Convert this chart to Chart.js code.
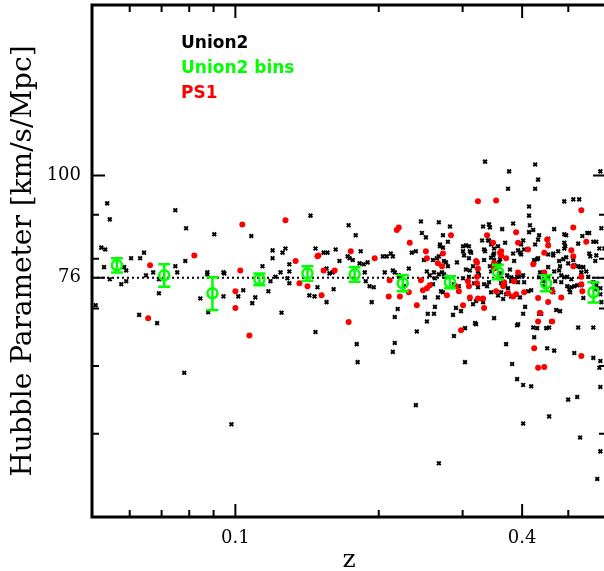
<!DOCTYPE html>
<html>
<head>
<meta charset="utf-8">
<script src="https://cdn.jsdelivr.net/npm/chart.js@4.4.1/dist/chart.umd.min.js"></script>
<style>
  html, body { margin: 0; padding: 0; background: #fff; overflow: hidden; }
  canvas { display: block; }
</style>
</head>
<body>
<canvas id="hz" width="610" height="571"></canvas>
<script>
// Union2 supernovae, one [z, H] pair each
const union2 = [
  [0.0509,70.6],[0.0523,82.4],[0.0533,82.0],[0.0530,78.2],[0.0538,92.8],[0.0545,88.9],[0.0545,75.7],[0.0576,74.7],
  [0.0590,75.3],[0.0584,78.2],[0.0590,77.5],[0.0604,80.1],[0.0631,80.1],[0.0643,81.3],[0.0649,76.5],[0.0672,77.1],
  [0.0691,75.7],[0.0691,72.9],[0.0628,68.8],[0.0685,67.3],[0.0748,91.1],[0.0788,86.8],[0.0748,78.4],[0.0755,77.1],
  [0.0785,79.5],[0.0781,58.9],[0.0844,71.9],[0.0873,77.1],[0.0873,76.7],[0.0877,69.3],[0.0903,85.4],[0.0944,77.1],
  [0.0948,76.9],[0.0944,72.3],[0.0981,51.3],[0.1014,72.3],
  [0.1039,73.5],[0.1080,85.0],[0.1085,71.0],[0.1101,72.1],[0.1140,78.4],[0.1197,81.8],[0.1197,80.1],[0.1185,75.3],
  [0.1173,73.3],[0.1214,76.2],[0.1244,77.1],[0.1250,69.2],[0.1256,81.3],[0.1274,82.2],[0.1286,75.9],[0.1298,74.9],
  [0.1298,78.8],[0.1298,77.3],[0.1438,89.8],[0.1473,82.2],[0.1487,74.1],[0.1466,72.3],[0.1430,72.5],[0.1473,65.7],
  [0.1532,81.3],[0.1561,81.3],[0.1554,77.9],[0.1576,76.9],[0.1554,71.2],[0.1600,77.1],[0.1624,82.0],[0.1608,73.7],
  [0.1654,79.5],
  [0.1729,87.5],[0.1721,80.5],[0.1789,85.2],[0.1737,80.1],[0.1764,79.7],[0.1833,81.6],[0.1823,79.0],[0.1860,78.8],
  [0.1895,79.2],[0.1869,77.1],[0.1878,75.3],[0.1913,74.3],[0.1952,74.1],[0.1933,71.2],[0.2040,80.5],[0.2079,80.5],
  [0.2120,81.1],[0.2141,80.5],[0.2059,77.1],[0.2141,77.5],[0.2161,77.1],[0.2203,76.5],[0.2192,69.9],[0.2161,68.4],
  [0.2226,76.2],[0.2258,74.3],[0.1798,63.6],[0.1806,60.6],[0.2161,63.8],[0.2141,62.3],
  [0.2313,77.9],[0.2347,81.3],[0.2393,81.6],[0.2452,88.4],[0.2464,85.7],[0.2512,84.7],[0.2488,79.7],[0.2599,79.7],
  [0.2524,77.3],[0.2559,76.5],[0.2612,77.1],[0.2535,69.0],[0.2524,67.6],[0.2649,80.1],[0.2674,80.5],[0.2674,88.2],
  [0.2728,85.2],[0.2794,83.7],[0.2624,75.9],[0.2674,76.7],[0.2728,73.1],[0.2689,83.1],[0.2689,82.7],[0.2741,79.5],
  [0.2768,79.2],[0.2794,78.4],[0.2715,77.1],[0.2741,76.7],[0.2768,76.2],[0.2905,70.1],[0.2864,68.8],[0.2919,79.2],
  [0.2877,74.7],[0.2946,74.3],[0.2877,65.0],[0.2822,87.2],[0.2728,82.4],[0.2500,72.1],[0.2612,69.0],[0.2624,70.3],
  [0.2404,65.8],[0.2393,54.0],[0.2674,46.2],[0.2702,73.3],[0.2662,72.1],[0.2977,69.5],[0.2599,74.7],
  [0.3035,66.4],[0.3006,82.7],[0.3049,82.9],[0.3006,81.6],[0.3107,81.6],[0.3093,82.7],[0.3049,77.7],[0.3107,77.5],
  [0.3093,76.2],[0.3006,75.9],[0.3201,67.1],[0.3231,77.3],[0.3247,76.5],[0.3171,74.9],[0.3231,74.1],[0.3262,71.8],
  [0.3312,71.2],[0.3312,87.2],[0.3376,85.2],[0.3408,84.0],[0.3408,87.7],[0.3443,83.1],[0.3493,82.2],[0.3560,82.7],
  [0.3328,82.0],[0.3344,81.6],[0.3493,81.1],[0.3443,80.2],[0.3493,79.7],[0.3632,86.6],[0.3830,87.9],[0.3684,83.5],
  [0.3830,81.1],[0.3922,81.8],[0.3959,81.3],[0.3614,74.9],[0.3684,74.3],[0.3737,73.9],[0.3614,73.1],[0.3702,72.7],
  [0.3793,72.3],[0.3793,76.1],[0.3867,75.7],[0.3941,76.2],[0.3720,76.5],[0.3772,77.7],[0.3848,79.5],[0.3344,103.8],
  [0.3756,101.1],[0.3737,96.5],[0.3021,80.7],[0.3125,81.3],[0.3476,80.7],[0.3093,80.1],[0.3155,78.4],[0.3328,79.7],
  [0.3423,78.4],[0.3443,77.3],[0.3596,79.9],[0.3579,79.2],[0.3904,76.2],[0.3614,76.9],[0.3596,75.9],[0.3793,75.3],
  [0.3408,75.1],[0.3328,74.7],[0.3376,74.3],[0.3035,60.6],[0.3107,71.8],[0.3155,70.8],[0.3201,71.4],[0.3186,67.3],
  [0.3493,68.2],[0.3702,63.6],[0.3904,66.9],[0.3811,60.3],[0.3904,57.9],[0.3296,84.0],[0.3392,84.0],[0.3423,87.0],
  [0.3443,73.1],[0.3560,72.5],[0.3649,71.8],
  [0.3981,80.9],[0.4039,82.0],[0.4020,76.5],[0.4039,75.1],[0.4136,85.9],[0.4220,86.4],[0.4155,87.5],[0.4020,84.0],
  [0.3981,83.1],[0.4020,69.0],[0.4058,70.3],[0.3922,67.1],[0.4220,66.5],[0.4301,66.4],[0.4240,64.8],[0.4240,79.7],
  [0.4321,80.1],[0.4260,83.1],[0.4321,84.2],[0.4342,85.2],[0.4536,80.9],[0.4649,80.7],[0.4430,75.3],[0.4451,74.3],
  [0.4342,69.0],[0.4387,69.0],[0.4604,67.6],[0.4716,69.7],[0.4494,66.4],[0.4558,66.5],[0.4671,77.3],[0.4783,77.5],
  [0.4783,79.5],[0.4880,79.9],[0.4904,83.5],[0.4904,82.2],[0.4927,82.7],[0.4904,85.4],[0.4950,85.2],[0.4997,79.0],
  [0.5122,79.7],[0.5245,78.4],[0.5073,74.1],[0.5024,73.7],[0.4974,74.3],[0.4904,76.1],[0.5073,75.7],[0.5295,78.2],
  [0.5377,78.2],[0.5454,77.3],[0.5245,83.3],[0.5351,85.0],[0.5481,85.7],[0.5532,85.7],[0.5643,83.7],[0.5725,83.7],
  [0.5560,80.5],[0.5532,81.1],[0.5697,79.5],[0.5697,73.7],[0.5838,73.9],[0.5810,82.2],[0.5245,66.5],[0.5643,66.5],
  [0.5867,71.2],[0.4136,92.0],[0.4136,89.8],[0.4904,93.3],[0.5270,93.8],[0.4260,103.0],[0.4321,98.9],[0.4260,96.5],
  [0.5838,101.1],[0.5122,93.8],[0.5867,86.8],[0.4671,86.6],[0.4536,84.4],[0.4536,83.1],[0.5953,82.2],[0.4649,81.1],
  [0.4761,81.6],[0.4950,80.3],[0.5725,80.7],[0.4240,79.2],[0.4301,79.9],[0.4805,78.4],[0.5147,78.6],[0.4536,78.2],
  [0.4536,76.2],[0.4693,75.3],[0.4833,76.5],[0.4974,76.2],[0.5325,77.1],[0.5506,76.2],[0.3922,75.1],[0.4362,77.1],
  [0.4342,76.1],[0.4833,75.1],[0.5147,74.3],[0.5221,74.5],[0.5325,74.5],[0.4020,57.0],[0.4179,56.8],[0.4020,51.4],
  [0.4515,62.9],[0.4671,62.5],[0.4805,69.5],[0.4558,52.4],[0.4626,73.7],[0.4649,73.1],[0.5044,73.1],[0.5377,72.0],
  [0.5147,62.1],[0.4997,54.8],[0.5221,55.2],[0.5295,49.5],[0.5643,61.3],[0.5838,60.8],[0.5810,59.7],[0.5838,56.7],
  [0.5838,47.7],[0.5752,44.3],[0.5838,72.7],[0.5725,74.5],[0.5643,75.1],[0.3959,72.1],[0.4116,73.3],[0.4179,73.5]
]

// PS1 supernovae, [z, H]
const ps1 = [
  [0.0662,78.6],[0.0820,80.7],[0.0656,68.2],[0.1034,87.7],[0.1024,77.5],[0.1000,73.3],[0.1000,70.1],[0.1070,65.1],
  [0.1274,88.7],[0.1338,79.5],[0.1363,74.9],[0.1417,74.3],[0.1487,80.5],[0.1494,80.7],[0.1517,72.5],[0.1532,77.5],
  [0.1616,77.5],[0.1729,67.5],[0.1747,81.6],
  [0.1961,80.1],[0.2108,75.5],[0.2099,72.3],[0.2182,86.4],[0.2203,87.0],[0.2215,72.3],[0.2323,83.5],[0.2313,73.1],
  [0.2512,81.6],[0.2524,80.1],[0.2452,75.5],[0.2404,70.6],[0.2476,73.5],[0.2524,73.9],[0.2728,81.1],[0.2662,79.0],
  [0.2559,74.5],[0.2836,85.2],[0.2905,74.3],[0.2946,73.3],[0.3006,70.6],[0.2977,66.0],[0.3078,75.3],[0.3093,74.3],
  [0.3107,72.1],[0.3201,79.5],[0.3216,76.2],[0.3216,74.9],[0.3231,71.9],[0.3312,71.9],[0.3328,70.1],[0.3376,85.2],
  [0.3476,83.5],[0.3596,81.3],[0.3614,80.7],[0.3702,80.1],[0.3493,79.0],[0.3922,83.5],[0.3885,85.9],[0.3667,75.1],
  [0.3649,74.3],[0.3830,72.3],[0.3885,72.7],[0.4039,73.1],[0.4116,82.0],[0.4451,81.3],[0.4536,82.9],[0.4515,84.2],
  [0.4321,72.0],[0.4536,71.2],[0.4626,73.3],[0.4321,67.6],[0.4362,69.2],[0.4626,67.6],[0.5122,87.0],[0.5073,81.8],
  [0.5122,78.4],[0.4833,72.1],[0.5454,83.7],[0.5325,74.7],[0.5351,73.3],
  [0.3231,93.3],[0.3527,93.5],[0.5325,91.1],[0.3216,79.2],[0.3231,77.9],[0.3493,77.9],[0.3614,81.6],[0.4220,78.8],
  [0.4451,77.1],[0.5325,76.2],[0.3922,77.1],[0.3848,75.3],[0.2715,78.4],[0.2781,72.5],[0.3527,73.3],[0.3737,72.9],
  [0.4240,62.9],[0.4321,59.7],[0.4451,59.8],[0.5325,61.6],[0.5122,80.5]
]

// Union2 binned means with 1-sigma errors
const binZ = [0.0564, 0.0709, 0.0895, 0.1123, 0.1417, 0.178, 0.2246, 0.2822, 0.3558, 0.4491, 0.5648]
const binH = [78.6, 76.5, 72.9, 75.7, 76.9, 76.7, 74.9, 75.1, 77.2, 74.9, 73.1]
const binErr = [1.5, 2.3, 3.2, 1.2, 1.5, 1.5, 1.6, 1.2, 1.5, 1.6, 2.0]

const H_REF = 76
const zRange = [0.05, 0.6]
const hRange = [40, 158]

// axis ticks: labelled (major) and unlabelled (minor)
const zMajor = [0.1, 0.4]
const zMinor = [0.06, 0.07, 0.08, 0.09, 0.2, 0.3, 0.5]
const hMajor = [76, 100]
const hMinor = [50, 60, 70, 80, 90]

const legendItems = [
  { text: 'Union2', color: '#000000' },
  { text: 'Union2 bins', color: '#00ff00' },
  { text: 'PS1', color: '#ff0000' }
]

const SERIF = '"DejaVu Serif", "Liberation Serif", serif'
const toXY = arr => arr.map(p => ({ x: p[0], y: p[1] }))

// keep the plot box exactly where the layout padding puts it
function fixScale(size) {
  return s => {
    if (s.isHorizontal()) s.height = size
    else s.width = size
    s.paddingTop = s.paddingBottom = s.paddingLeft = s.paddingRight = 0
  }
}

// error bars for the binned points
const errorBars = {
  id: 'errorBars',
  afterDatasetsDraw(chart) {
    const { ctx, scales: { x, y } } = chart
    ctx.save()
    ctx.strokeStyle = '#00ff00'
    binZ.forEach((z, i) => {
      const px = x.getPixelForValue(z)
      const top = y.getPixelForValue(binH[i] + binErr[i])
      const bot = y.getPixelForValue(binH[i] - binErr[i])
      ctx.lineWidth = 2.5
      ctx.beginPath()
      ctx.moveTo(px, top); ctx.lineTo(px, bot)
      ctx.moveTo(px - 6, top); ctx.lineTo(px + 6, top)
      ctx.moveTo(px - 6, bot); ctx.lineTo(px + 6, bot)
      ctx.stroke()
    })
    ctx.restore()
  }
}

// boxed frame with inward ticks on all four sides, plus the text legend
const frame = {
  id: 'frame',
  afterDraw(chart) {
    const { ctx, chartArea: a, scales: { x, y } } = chart
    ctx.save()
    ctx.strokeStyle = '#000'
    ctx.lineWidth = 2
    const xt = (v, len) => {
      const px = x.getPixelForValue(v)
      ctx.moveTo(px, a.bottom); ctx.lineTo(px, a.bottom - len)
      ctx.moveTo(px, a.top); ctx.lineTo(px, a.top + len)
    }
    const yt = (v, len) => {
      const py = y.getPixelForValue(v)
      ctx.moveTo(a.left, py); ctx.lineTo(a.left + len, py)
      ctx.moveTo(a.right, py); ctx.lineTo(a.right - len, py)
    }
    ctx.beginPath()
    zMajor.forEach(v => xt(v, 13))
    zMinor.forEach(v => xt(v, 7))
    hMajor.forEach(v => yt(v, 13))
    hMinor.forEach(v => yt(v, 7))
    ctx.stroke()
    ctx.lineWidth = 3
    ctx.strokeRect(a.left, a.top, a.right - a.left, a.bottom - a.top)

    ctx.font = 'bold 17px "DejaVu Sans", sans-serif'
    ctx.textBaseline = 'alphabetic'
    legendItems.forEach((it, i) => {
      ctx.fillStyle = it.color
      ctx.fillText(it.text, 181, 48 + i * 25)
    })
    ctx.restore()
  }
}

new Chart(document.getElementById('hz'), {
  type: 'scatter',
  data: {
    datasets: [
      {
        label: 'Union2 bins',
        data: toXY(binZ.map((z, i) => [z, binH[i]])),
        pointStyle: 'circle',
        pointRadius: 5,
        borderWidth: 2.5,
        borderColor: '#00ff00',
        backgroundColor: 'rgba(0,0,0,0)',
        order: 0
      },
      {
        label: 'PS1',
        data: toXY(ps1),
        pointStyle: 'circle',
        pointRadius: 3,
        borderWidth: 0,
        backgroundColor: '#ff0000',
        order: 1
      },
      {
        label: 'Union2',
        data: toXY(union2),
        pointStyle: 'crossRot',
        pointRadius: 2.6,
        borderWidth: 2,
        borderColor: '#000',
        order: 2
      },
      {
        type: 'line',
        label: 'H = 76',
        data: [{ x: zRange[0], y: H_REF }, { x: zRange[1], y: H_REF }],
        borderColor: '#000',
        borderWidth: 2,
        borderDash: [2, 3],
        pointRadius: 0,
        order: 3
      }
    ]
  },
  options: {
    responsive: false,
    devicePixelRatio: 1,
    animation: false,
    layout: { autoPadding: false, padding: { top: 5, right: 4, left: 0, bottom: 0 } },
    plugins: { legend: { display: false }, tooltip: { enabled: false } },
    scales: {
      x: {
        type: 'logarithmic',
        min: zRange[0],
        max: zRange[1],
        grid: { display: false, drawTicks: false },
        border: { display: false },
        afterBuildTicks: s => { s.ticks = zMajor.map(v => ({ value: v })) },
        afterFit: fixScale(54),
        ticks: {
          autoSkip: false,
          maxRotation: 0,
          padding: 11,
          color: '#000',
          font: { family: SERIF, size: 18 },
          callback: v => String(v)
        },
        title: {
          display: true,
          text: 'z',
          color: '#000',
          font: { family: SERIF, size: 25, lineHeight: 1 },
          padding: { top: 0, bottom: -2 }
        }
      },
      y: {
        type: 'logarithmic',
        min: hRange[0],
        max: hRange[1],
        grid: { display: false, drawTicks: false },
        border: { display: false },
        afterBuildTicks: s => { s.ticks = hMajor.map(v => ({ value: v })) },
        afterFit: fixScale(92),
        ticks: {
          autoSkip: false,
          padding: 11,
          color: '#000',
          font: { family: SERIF, size: 18 },
          callback: v => String(v)
        },
        title: {
          display: true,
          text: 'Hubble Parameter [km/s/Mpc]',
          color: '#000',
          font: { family: SERIF, size: 28, lineHeight: 1.2 },
          padding: { top: 7, bottom: 0 }
        }
      }
    }
  },
  plugins: [errorBars, frame]
})
</script>
</body>
</html>
